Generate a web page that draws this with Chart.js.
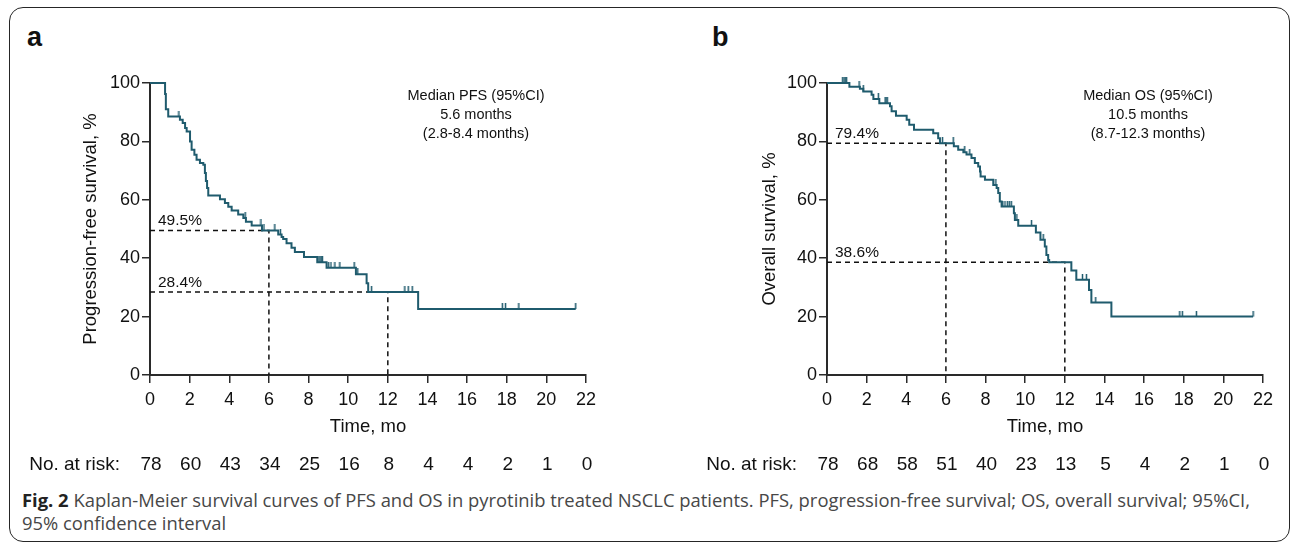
<!DOCTYPE html>
<html>
<head>
<meta charset="utf-8">
<script src="https://cdn.jsdelivr.net/npm/chart.js@4.4.0/dist/chart.umd.min.js"></script>
<style>
  body { margin: 0; width: 1292px; height: 544px; background: #fff; position: relative; overflow: hidden;
         font-family: "Liberation Sans", Arial, sans-serif; }
  .frame { position: absolute; left: 9px; top: 7px; width: 1281px; height: 535px; box-sizing: border-box;
           border: 1.5px solid #262626; border-radius: 14px; }
  .tag { position: absolute; top: 24px; font-size: 27px; line-height: 27px; font-weight: bold; color: #111; }
  canvas { position: absolute; top: 50px; }
  .caption { position: absolute; left: 22px; font-family: "Open Sans", sans-serif; font-size: 18.4px;
             line-height: 23px; color: #474747; white-space: nowrap; }
  .caption b { color: #222; }
</style>
</head>
<body>
<div class="frame"></div>
<div class="tag" style="left:27px">a</div>
<div class="tag" style="left:712px">b</div>
<canvas id="pfs" width="620" height="430" style="left:10px"></canvas>
<canvas id="os" width="640" height="430" style="left:640px"></canvas>
<div class="caption" style="top:488px"><b>Fig. 2</b> Kaplan-Meier survival curves of PFS and OS in pyrotinib treated NSCLC patients. PFS, progression-free survival; OS, overall survival; 95%CI,<br>95% confidence interval</div>

<script>
const monthTicks = [0, 2, 4, 6, 8, 10, 12, 14, 16, 18, 20, 22];

// a: progression-free survival (step drops)
const pfsTimes = [0, 0.76, 0.80, 0.92, 1.51, 1.65, 1.77, 1.85, 2.02, 2.10, 2.24, 2.35, 2.52, 2.69, 2.77, 2.82,
  2.88, 2.94, 3.53, 3.78, 3.95, 4.12, 4.45, 4.71, 4.84, 5.13, 5.65, 6.47, 6.64, 6.72, 6.89, 7.14, 7.31, 7.77,
  8.44, 8.91, 10.39, 10.93, 11.01, 13.53, 21.48];
const pfsSurvival = [100, 96.2, 91.0, 88.5, 87.4, 86.3, 84.6, 83.4, 80.0, 77.1, 75.4, 73.7, 72.6, 72.0, 69.2, 66.4,
  64.0, 61.5, 60.2, 58.9, 57.6, 56.3, 55.0, 53.8, 52.5, 51.2, 49.5, 48.1, 47.3, 46.6, 45.1, 43.6, 42.1, 40.4,
  38.6, 36.7, 34.5, 31.4, 28.4, 22.6, 22.6];
const pfsCensorTimes = [1.46, 4.80, 5.60, 5.75, 6.30, 6.58, 8.52, 8.58, 8.64, 8.70, 9.00, 9.13, 9.33, 9.58,
  10.30, 10.48, 11.18, 12.86, 13.03, 13.23, 17.78, 17.94, 18.61, 21.48];
const pfsCensorSurvival = [88.5, 53.8, 51.2, 49.5, 49.5, 48.1, 38.6, 38.6, 38.6, 38.6, 36.7, 36.7, 36.7, 36.7,
  36.7, 34.5, 28.4, 28.4, 28.4, 28.4, 22.6, 22.6, 22.6, 22.6];
const pfsRisk = [78, 60, 43, 34, 25, 16, 8, 4, 4, 2, 1, 0];
const pfsLandmarks = [49.5, 28.4];
const pfsMedian = ["Median PFS (95%CI)", "5.6 months", "(2.8-8.4 months)"];

// b: overall survival
const osTimes = [0, 1.13, 1.66, 1.83, 2.25, 2.34, 2.64, 3.18, 3.26, 3.48, 4.02, 4.15, 4.39, 5.36, 5.61, 5.70,
  6.40, 6.62, 6.88, 7.04, 7.29, 7.46, 7.63, 7.72, 7.75, 7.97, 8.39, 8.56, 8.64, 8.72, 8.81, 9.43, 9.48, 9.65,
  10.54, 10.77, 10.99, 11.07, 11.16, 11.21, 12.33, 12.58, 13.22, 13.34, 14.35, 21.50];
const osSurvival = [100, 98.7, 98.0, 97.1, 96.0, 94.5, 93.1, 92.0, 90.3, 88.8, 87.4, 85.7, 84.0, 82.8, 81.1, 79.4,
  78.3, 77.1, 76.3, 75.5, 74.3, 72.6, 71.4, 69.7, 68.0, 66.9, 65.1, 64.0, 62.3, 59.4, 57.7, 55.4, 53.1, 51.1,
  48.8, 46.3, 44.0, 41.1, 39.4, 38.6, 35.8, 32.6, 29.1, 24.8, 20.0, 20.0];
const osCensorTimes = [0.79, 0.86, 0.92, 0.99, 1.62, 1.83, 2.59, 2.93, 2.98, 3.04, 5.83, 6.37, 6.95, 7.20, 8.52,
  8.86, 8.98, 9.10, 9.20, 9.30, 9.58, 10.32, 10.91, 12.89, 13.09, 13.56, 17.80, 17.93, 18.64, 21.50];
const osCensorSurvival = [100, 100, 100, 100, 98.7, 97.1, 94.5, 93.1, 93.1, 93.1, 79.4, 79.4, 76.3, 75.5, 65.1,
  57.7, 57.7, 57.7, 57.7, 57.7, 53.1, 51.1, 46.3, 32.6, 32.6, 24.8, 20.0, 20.0, 20.0, 20.0];
const osRisk = [78, 68, 58, 51, 40, 23, 13, 5, 4, 2, 1, 0];
const osLandmarks = [79.4, 38.6];
const osMedian = ["Median OS (95%CI)", "10.5 months", "(8.7-12.3 months)"];

const landmarkTimes = [6, 12];

const FONT = "'Liberation Sans', Arial, sans-serif";
const CURVE = "#1f5b6d";
const INK = "#2a2a2a";

function censorMark(color) {
  const c = document.createElement("canvas");
  c.width = 3;
  c.height = 12;
  const g = c.getContext("2d");
  g.strokeStyle = color;
  g.lineWidth = 1.5;
  g.beginPath();
  g.moveTo(1.5, 0);
  g.lineTo(1.5, 6);
  g.stroke();
  return c;
}

// risk table, landmark labels, median box
const kmText = {
  id: "kmText",
  afterDraw(chart, args, opts) {
    const { ctx, chartArea, scales } = chart;
    ctx.save();
    ctx.fillStyle = "#111";

    ctx.font = "19px " + FONT;
    ctx.textBaseline = "middle";
    ctx.textAlign = "right";
    ctx.fillText("No. at risk:", chartArea.left - 30, chartArea.bottom + 90);
    ctx.textAlign = "center";
    opts.risk.forEach((n, i) => {
      ctx.fillText(String(n), scales.x.getPixelForValue(monthTicks[i]) + 1, chartArea.bottom + 90);
    });

    ctx.font = "15.5px " + FONT;
    ctx.textAlign = "left";
    ctx.textBaseline = "alphabetic";
    opts.levels.forEach(v => {
      ctx.fillText(v.toFixed(1) + "%", chartArea.left + 8, scales.y.getPixelForValue(v) - 5);
    });

    ctx.font = "14.5px " + FONT;
    ctx.textAlign = "center";
    ctx.textBaseline = "middle";
    opts.median.forEach((line, i) => {
      ctx.fillText(line, chartArea.left + opts.medianX, chartArea.top + 13 + i * 19);
    });
    ctx.restore();
  }
};

function makeChart(canvas, cfg) {
  const curve = cfg.times.map((t, i) => ({ x: t, y: cfg.survival[i] }));
  const censored = cfg.censorTimes.map((t, i) => ({ x: t, y: cfg.censorSurvival[i] }));
  const guides = cfg.levels.map((v, i) => ({
    data: [{ x: 0, y: v }, { x: landmarkTimes[i], y: v }, { x: landmarkTimes[i], y: 0 }],
    borderColor: "#111",
    borderWidth: 1.5,
    borderDash: [5, 4],
    pointRadius: 0,
    clip: false
  }));

  return new Chart(canvas, {
    type: "line",
    data: {
      datasets: [
        {
          data: curve,
          stepped: "before",
          borderColor: CURVE,
          borderWidth: 2,
          pointRadius: 0,
          fill: false,
          clip: false
        },
        {
          data: censored,
          showLine: false,
          pointStyle: censorMark(CURVE),
          pointRadius: 4,
          clip: false
        },
        ...guides
      ]
    },
    options: {
      responsive: false,
      animation: false,
      events: [],
      layout: { padding: { top: 33, right: cfg.padRight, left: 0, bottom: 0 } },
      plugins: {
        legend: { display: false },
        tooltip: { enabled: false },
        kmText: { risk: cfg.risk, levels: cfg.levels, median: cfg.median, medianX: cfg.medianX }
      },
      scales: {
        x: {
          type: "linear",
          min: 0,
          max: 22,
          afterBuildTicks: s => { s.ticks = monthTicks.map(v => ({ value: v })); },
          afterFit: s => { s.height = 105; },
          border: { color: INK, width: 2 },
          grid: { drawOnChartArea: false, drawTicks: true, tickLength: 8, color: INK, lineWidth: 1.5 },
          ticks: { color: "#111", font: { size: 18, family: FONT }, padding: 6, maxRotation: 0, autoSkip: false },
          title: {
            display: true, text: "Time, mo", color: "#111",
            font: { size: 18.5, family: FONT }, padding: { top: 0, bottom: 42 }
          }
        },
        y: {
          min: 0,
          max: 100,
          afterFit: s => { s.width = cfg.axisWidth; },
          border: { color: INK, width: 2 },
          grid: { drawOnChartArea: false, drawTicks: true, tickLength: 8, color: INK, lineWidth: 1.5 },
          ticks: { stepSize: 20, color: "#111", font: { size: 18, family: FONT }, padding: 2 },
          title: {
            display: true, text: cfg.yTitle, color: "#111",
            font: { size: 18.5, family: FONT }, padding: { top: cfg.titleOffset, bottom: 0 }
          }
        }
      }
    },
    plugins: [kmText]
  });
}

makeChart(document.getElementById("pfs"), {
  times: pfsTimes, survival: pfsSurvival,
  censorTimes: pfsCensorTimes, censorSurvival: pfsCensorSurvival,
  risk: pfsRisk, levels: pfsLandmarks, median: pfsMedian,
  yTitle: "Progression-free survival, %",
  axisWidth: 140, padRight: 44, titleOffset: 70, medianX: 326
});

makeChart(document.getElementById("os"), {
  times: osTimes, survival: osSurvival,
  censorTimes: osCensorTimes, censorSurvival: osCensorSurvival,
  risk: osRisk, levels: osLandmarks, median: osMedian,
  yTitle: "Overall survival, %",
  axisWidth: 187, padRight: 17, titleOffset: 119, medianX: 321
});
</script>
</body>
</html>
